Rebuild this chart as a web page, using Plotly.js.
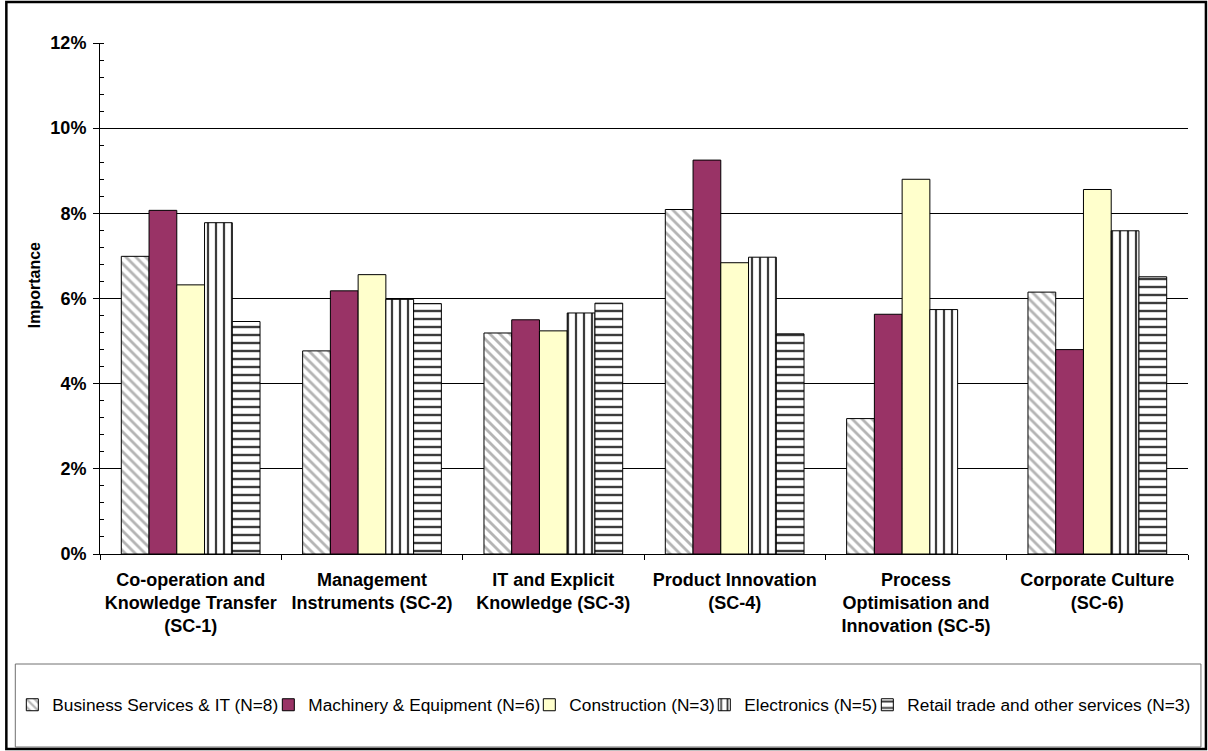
<!DOCTYPE html>
<html>
<head>
<meta charset="utf-8">
<script src="https://cdn.plot.ly/plotly-3.0.1.min.js"></script>
<style>
  html, body { margin: 0; padding: 0; background: #ffffff; }
  #chart { width: 1208px; height: 751px; }
</style>
</head>
<body>
<div id="chart"></div>
<script>
// Success-factor categories (x axis)
const categories = [
  'Co-operation and<br>Knowledge Transfer<br>(SC-1)',
  'Management<br>Instruments (SC-2)',
  'IT and Explicit<br>Knowledge (SC-3)',
  'Product Innovation<br>(SC-4)',
  'Process<br>Optimisation and<br>Innovation (SC-5)',
  'Corporate Culture<br>(SC-6)'
];

// Sector names shown in the legend
const seriesNames = [
  'Business Services & IT (N=8)',
  'Machinery & Equipment (N=6)',
  'Construction (N=3)',
  'Electronics (N=5)',
  'Retail trade and other services (N=3)'
];

// Importance per success factor, in percent
const businessServices = [6.99, 4.77, 5.19, 8.09, 3.18, 6.15];
const machinery        = [8.07, 6.18, 5.50, 9.25, 5.63, 4.80];
const construction     = [6.32, 6.56, 5.24, 6.84, 8.80, 8.56];
const electronics      = [7.78, 5.98, 5.66, 6.97, 5.74, 7.59];
const retail           = [5.46, 5.88, 5.89, 5.17, null, 6.51];

// Y axis ticks
const yTickVals = [0, 2, 4, 6, 8, 10, 12];
const yTickText = ['0%', '2%', '4%', '6%', '8%', '10%', '12%'];
const yTitle = 'Importance';

const FONT = 'Arial, "Liberation Sans", Helvetica, sans-serif';
const LEGEND_SIZE = 17.3;
const ENTRY_GAP = 3;   // space between a label and the next legend swatch

// Plot-area geometry (pixels) used for the frame, legend box and axis title
const W = 1208, H = 751;
const M = { l: 96, r: 20, t: 43, b: 197 };
const PW = W - M.l - M.r, PH = H - M.t - M.b;
const px = v => (v - M.l) / PW;
const py = v => (H - M.b - v) / PH;

// Measure legend label widths so the entries can be packed tightly
const ctx = document.createElement('canvas').getContext('2d');
ctx.font = LEGEND_SIZE + 'px ' + FONT;
const labelWidth = seriesNames.map(s => Math.ceil(ctx.measureText(s).width));
const entryWidth = labelWidth.map((w, i) => i === labelWidth.length - 1 ? w + 2 : w + ENTRY_GAP - 19);

const styles = [
  { color: '#ffffff', pattern: { shape: '\\', fgcolor: '#b4b4b4', bgcolor: '#ffffff', size: 7, solidity: 0.4, fillmode: 'replace' } },
  { color: '#993366' },
  { color: '#ffffcc' },
  { color: '#ffffff', pattern: { shape: '|', fgcolor: '#3c3c3c', bgcolor: '#ffffff', size: 8, solidity: 0.28, fillmode: 'replace' } },
  { color: '#ffffff', pattern: { shape: '-', fgcolor: '#3c3c3c', bgcolor: '#ffffff', size: 8, solidity: 0.3, fillmode: 'replace' } }
];

const values = [businessServices, machinery, construction, electronics, retail];

const traces = values.map((vals, i) => {
  const marker = { color: styles[i].color, line: { color: '#000000', width: 1 } };
  if (styles[i].pattern) marker.pattern = styles[i].pattern;
  return {
    type: 'bar',
    name: seriesNames[i],
    x: categories,
    y: vals,
    marker: marker,
    legendwidth: entryWidth[i],
    hoverinfo: 'x+y+name'
  };
});

// Centre the packed legend row inside its frame
const legendSpan = labelWidth.reduce((a, w) => a + w + 26, 0) + ENTRY_GAP * (labelWidth.length - 1);
const legendLeft = (W - legendSpan) / 2 - 14;

const layout = {
  width: W,
  height: H,
  margin: M,
  paper_bgcolor: '#ffffff',
  plot_bgcolor: '#ffffff',
  font: { family: FONT, color: '#000000' },
  barmode: 'group',
  bargap: 0.235,
  bargroupgap: 0,
  showlegend: true,
  legend: {
    orientation: 'h',
    x: px(legendLeft),
    xanchor: 'left',
    y: py(705),
    yanchor: 'middle',
    font: { family: FONT, size: LEGEND_SIZE, color: '#000000' },
    bgcolor: 'rgba(0,0,0,0)',
    borderwidth: 0,
    itemwidth: 30,
    traceorder: 'normal'
  },
  xaxis: {
    type: 'category',
    showline: true,
    linecolor: '#000000',
    linewidth: 1,
    ticks: 'outside',
    tickson: 'boundaries',
    ticklen: 5,
    tickcolor: '#000000',
    ticklabelstandoff: 9,
    tickfont: { family: FONT, size: 18, color: '#000000', weight: 'bold' },
    showgrid: false,
    zeroline: false,
    automargin: false
  },
  yaxis: {
    range: [0, 12],
    tickvals: yTickVals,
    ticktext: yTickText,
    showline: true,
    linecolor: '#000000',
    linewidth: 1,
    ticks: 'outside',
    ticklen: 6,
    tickcolor: '#000000',
    ticklabelstandoff: 3,
    tickfont: { family: FONT, size: 18, color: '#000000', weight: 'bold' },
    showgrid: true,
    gridcolor: '#000000',
    gridwidth: 1,
    zeroline: false,
    minor: { dtick: 0.4, ticks: 'inside', ticklen: 4, tickcolor: '#000000', showgrid: false },
    automargin: false
  },
  annotations: [
    // rotated y-axis title, sitting a little above the plot's mid-height
    { text: yTitle, textangle: -90, xref: 'paper', yref: 'paper', x: px(30), y: py(285),
      xanchor: 'center', yanchor: 'middle', showarrow: false,
      font: { family: FONT, size: 16, color: '#000000', weight: 'bold' } }
  ],
  shapes: [
    // legend frame
    { type: 'rect', xref: 'paper', yref: 'paper', x0: px(11), x1: px(1201), y0: py(664), y1: py(747),
      line: { color: '#707070', width: 1 }, fillcolor: 'rgba(0,0,0,0)', layer: 'below' },
    // outer chart frame
    { type: 'rect', xref: 'paper', yref: 'paper', x0: px(2), x1: px(1206), y0: py(2), y1: py(749),
      line: { color: '#000000', width: 2.5 }, fillcolor: 'rgba(0,0,0,0)', layer: 'below' }
  ]
};

Plotly.newPlot('chart', traces, layout, { displayModeBar: false, staticPlot: true });
</script>
</body>
</html>
